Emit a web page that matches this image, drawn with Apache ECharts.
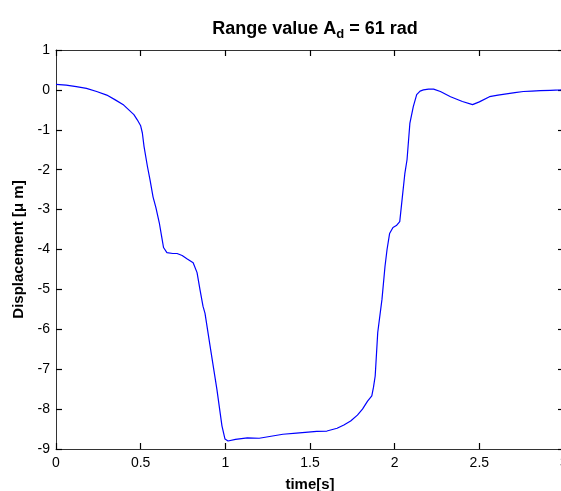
<!DOCTYPE html>
<html>
<head>
<meta charset="utf-8">
<script src="https://cdn.jsdelivr.net/npm/echarts@6/dist/echarts.min.js"></script>
<style>
  html, body { margin: 0; padding: 0; background: #fff; }
  #chart { width: 561px; height: 491px; }
</style>
</head>
<body>
<div id="chart"></div>
<script>
// time [s]
var timeS = [
  0, 0.06, 0.12, 0.18, 0.24, 0.30, 0.35, 0.40, 0.43, 0.46, 0.48, 0.50, 0.51, 0.52,
  0.54, 0.555, 0.573, 0.59, 0.61, 0.625, 0.635, 0.655, 0.69, 0.715, 0.745, 0.773,
  0.81, 0.833, 0.85, 0.868, 0.88, 0.91, 0.95, 0.98, 0.998, 1.016, 1.06, 1.13, 1.2,
  1.27, 1.34, 1.42, 1.54, 1.60, 1.66, 1.70, 1.74, 1.78, 1.81, 1.84, 1.865, 1.875,
  1.885, 1.90, 1.925, 1.943, 1.955, 1.97, 1.99, 2.01, 2.03, 2.045, 2.06, 2.073,
  2.09, 2.11, 2.13, 2.15, 2.17, 2.20, 2.23, 2.27, 2.33, 2.40, 2.46, 2.50, 2.56,
  2.61, 2.66, 2.71, 2.76, 2.81, 2.86, 2.92, 2.98, 3.0
];
// displacement [um]
var displacement = [
  0.14, 0.12, 0.08, 0.04, -0.04, -0.13, -0.25, -0.38, -0.5, -0.62, -0.75, -0.9, -1.08, -1.42,
  -1.92, -2.25, -2.68, -2.95, -3.33, -3.7, -3.95, -4.08, -4.1, -4.1, -4.15, -4.23,
  -4.33, -4.58, -5.0, -5.42, -5.6, -6.42, -7.5, -8.42, -8.75, -8.8, -8.76, -8.72, -8.73,
  -8.68, -8.63, -8.6, -8.56, -8.55, -8.48, -8.4, -8.3, -8.15, -8.0, -7.8, -7.67, -7.45,
  -7.17, -6.08, -5.25, -4.42, -4.0, -3.6, -3.45, -3.4, -3.3, -2.7, -2.1, -1.75,
  -0.83, -0.42, -0.12, -0.03, 0.0, 0.02, 0.02, -0.04, -0.17, -0.29, -0.37, -0.3, -0.17,
  -0.13, -0.1, -0.07, -0.04, -0.03, -0.02, -0.01, 0.0, 0.01
];
var xTicks = [0, 0.5, 1, 1.5, 2, 2.5, 3];
var yTicks = [-9, -8, -7, -6, -5, -4, -3, -2, -1, 0, 1];

var chart = echarts.init(document.getElementById('chart'));
var axisCol = '#333';
var font = 'Liberation Sans, Arial, sans-serif';

var points = timeS.map(function (t, i) { return [t, displacement[i]]; });

// matlab style box: every side gets a line and inward ticks
function boxAxis (pos, isX) {
  var ticks = isX ? xTicks : yTicks;
  return {
    type: 'value',
    position: pos,
    min: ticks[0],
    max: ticks[ticks.length - 1],
    interval: ticks[1] - ticks[0],
    axisLine: { show: true, onZero: false, lineStyle: { color: axisCol, width: 1 } },
    axisTick: { show: true, inside: true, length: 6, customValues: ticks, lineStyle: { color: '#000', width: 1.2 } },
    axisLabel: { show: false },
    splitLine: { show: false }
  };
}

var xMain = boxAxis('bottom', true);
xMain.name = 'time[s]';
xMain.nameLocation = 'middle';
xMain.nameGap = 28;
xMain.nameTextStyle = { fontFamily: font, fontWeight: 'bold', fontSize: 15, color: '#000' };
xMain.axisLabel = { show: true, fontFamily: font, fontSize: 14, color: '#000', margin: 7 };

var yMain = boxAxis('left', false);
yMain.name = 'Displacement [\u03bc m]';
yMain.nameLocation = 'middle';
yMain.nameGap = 28;
yMain.nameTextStyle = { fontFamily: font, fontWeight: 'bold', fontSize: 15, color: '#000' };
yMain.axisLabel = { show: true, fontFamily: font, fontSize: 14, color: '#000', margin: 6 };

var option = {
  backgroundColor: '#fff',
  animation: false,
  title: {
    text: '{a|Range value A}{s|d}{a| = 61 rad}',
    left: 310,
    textAlign: 'center',
    top: 12,
    textStyle: {
      rich: {
        a: { fontFamily: font, fontWeight: 'bold', fontSize: 18, color: '#000' },
        s: { fontFamily: font, fontWeight: 'bold', fontSize: 13, color: '#000', padding: [11, 0, 0, 0] }
      }
    }
  },
  grid: { left: 56, right: -3, top: 50, bottom: 42, containLabel: false, outerBoundsMode: 'none' },
  xAxis: [xMain, boxAxis('top', true)],
  yAxis: [yMain, boxAxis('right', false)],
  series: [{
    type: 'line',
    data: points,
    showSymbol: false,
    smooth: false,
    lineStyle: { color: '#0000ff', width: 1.2 }
  }]
};
chart.setOption(option);
</script>
</body>
</html>
